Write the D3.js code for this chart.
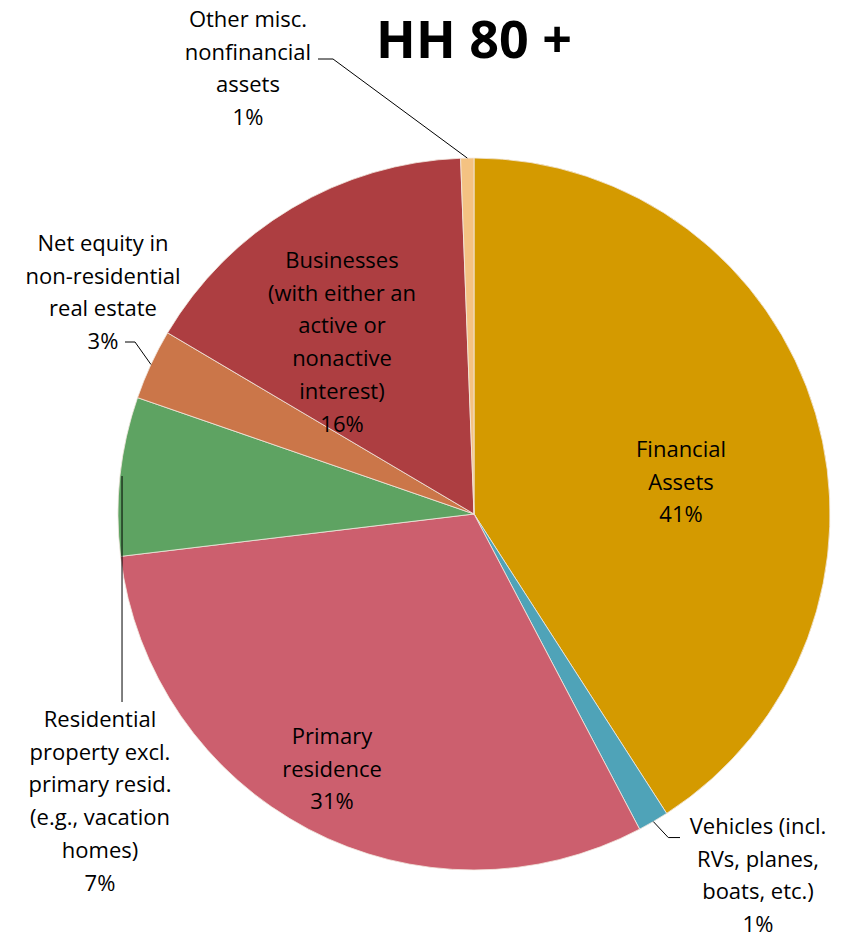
<!doctype html>
<html>
<head>
<style>
  body { margin: 0; background: #fff; }
  text { font-family: "Open Sans", Lato, sans-serif; fill: #000; }
</style>
<script src="https://d3js.org/d3.v7.min.js"></script>
</head>
<body>
<svg width="844" height="938"></svg>
<script>
// data, clockwise from 12 o'clock
var categories = ["Financial Assets", "Vehicles (incl. RVs, planes, boats, etc.)", "Primary residence",
  "Residential property excl. primary resid. (e.g., vacation homes)", "Net equity in non-residential real estate",
  "Businesses (with either an active or nonactive interest)", "Other misc. nonfinancial assets"];
var shares = [40.9, 1.4, 30.8, 7.2, 3.2, 15.9, 0.6];
var pctLabels = ["41%", "1%", "31%", "7%", "3%", "16%", "1%"];
var labelLines = [
  ["Financial", "Assets"],
  ["Vehicles (incl.", "RVs, planes,", "boats, etc.)"],
  ["Primary", "residence"],
  ["Residential", "property excl.", "primary resid.", "(e.g., vacation", "homes)"],
  ["Net equity in", "non-residential", "real estate"],
  ["Businesses", "(with either an", "active or", "nonactive", "interest)"],
  ["Other misc.", "nonfinancial", "assets"]
];
var colors = ["#D49A00", "#4FA3B8", "#CC5F6E", "#5EA362", "#CB7649", "#AD3E41", "#F4C282"];

var svg = d3.select("svg"),
    cx = 474, cy = 514, r = 356, lh = 32.8;

svg.append("text")
   .attr("x", 474).attr("y", 58)
   .attr("text-anchor", "middle")
   .attr("font-size", "52px")
   .style("font-weight", "bold")
   .text("HH 80 +");

var pie = d3.pie().sort(null).value(function(d) { return d; });
var arc = d3.arc().innerRadius(0).outerRadius(r);
var arcs = pie(shares);

var g = svg.append("g").attr("transform", "translate(" + cx + "," + cy + ")");

g.selectAll("path")
 .data(arcs)
 .enter().append("path")
 .attr("d", arc)
 .attr("fill", function(d, i) { return colors[i]; })
 .attr("stroke", "#f3e9e0")
 .attr("stroke-width", 0.8);

// label placement (x, y of first line centre), leader type
var labelPos = [
  {x: 681, y: 449},
  {x: 758, y: 826, leader: "right"},
  {x: 332, y: 736},
  {x: 100, y: 719, leader: "up"},
  {x: 103, y: 243, leader: "left"},
  {x: 342, y: 260},
  {x: 248, y: 19, leader: "left2"}
];

function edge(d) {
  var a = (d.startAngle + d.endAngle) / 2;
  return [cx + r * Math.sin(a), cy - r * Math.cos(a)];
}

arcs.forEach(function(d, i) {
  var p = labelPos[i];
  var lines = labelLines[i].concat([pctLabels[i]]);
  var t = svg.append("text")
     .attr("text-anchor", "middle")
     .attr("font-size", "22px");
  lines.forEach(function(s, k) {
    t.append("tspan").attr("x", p.x).attr("y", p.y + k * lh).attr("dy", "0.35em").text(s);
  });

  if (!p.leader) return;
  var e = edge(d), pts;
  if (p.leader === "right") {
    pts = [e, [e[0] + 15, e[1] + 16], [680, e[1] + 16]];
  } else if (p.leader === "up") {
    pts = [[e[0] + 2, e[1]], [e[0] + 2, 702]];
  } else if (p.leader === "left") {
    pts = [e, [135, 342], [125, 342]];
  } else {
    pts = [e, [333, 59], [318, 59]];
  }
  svg.append("path")
     .attr("d", d3.line()(pts))
     .attr("fill", "none")
     .attr("stroke", "#000")
     .attr("stroke-width", 1);
});
</script>
</body>
</html>
